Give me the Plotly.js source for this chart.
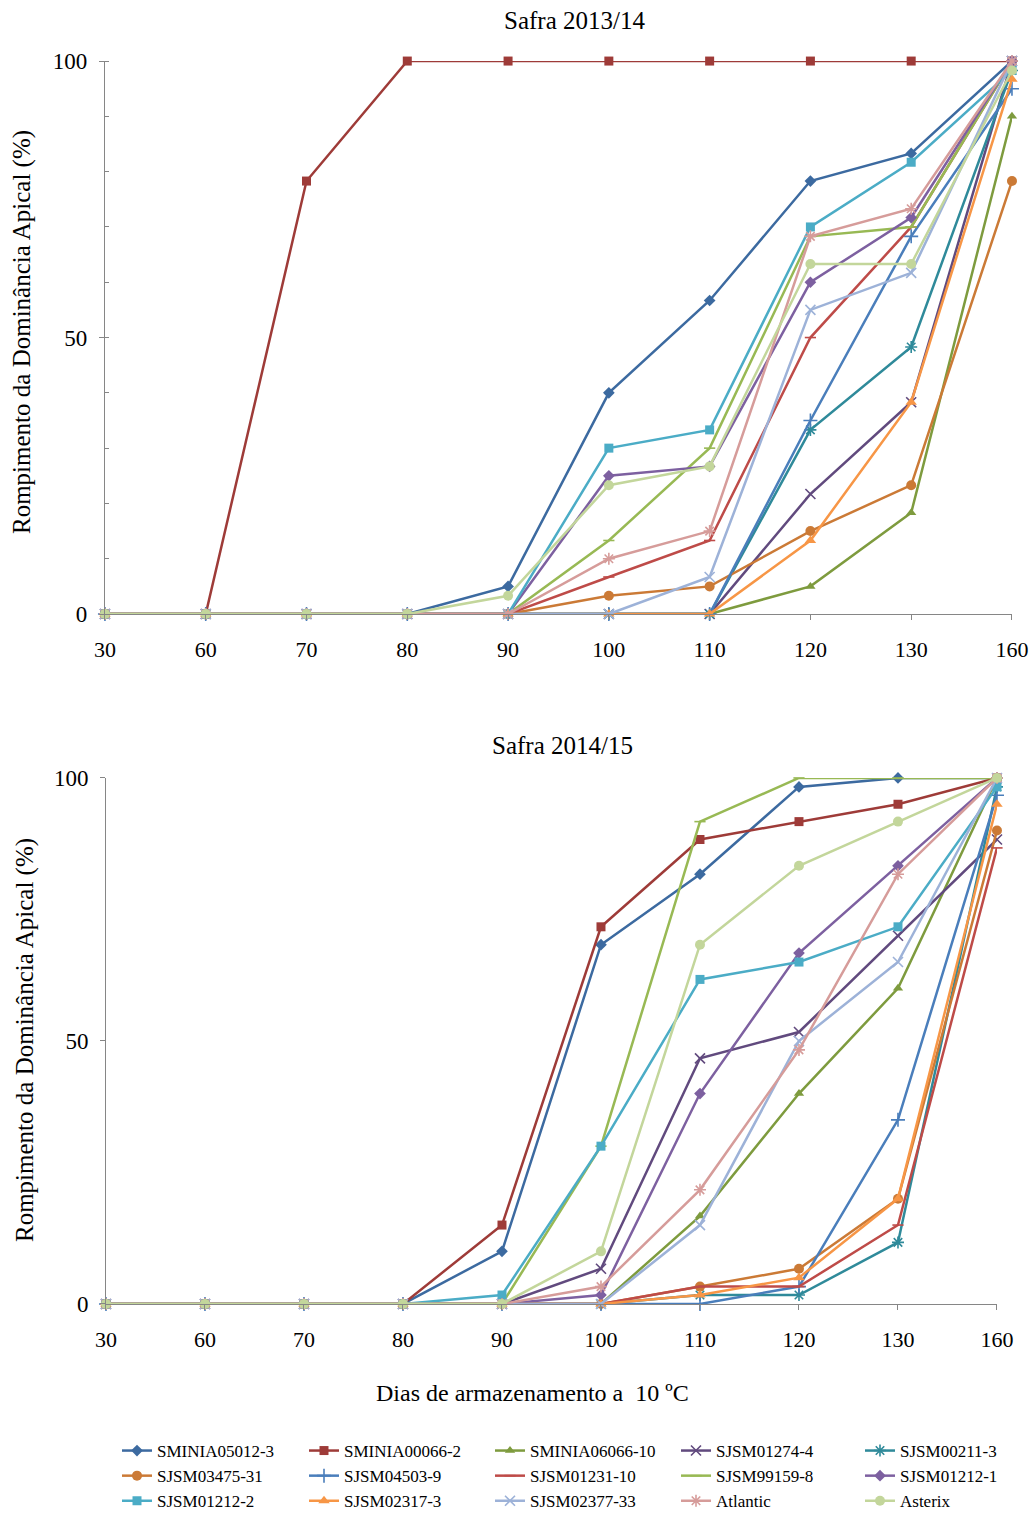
<!DOCTYPE html>
<html><head><meta charset="utf-8">
<script src="https://cdn.plot.ly/plotly-3.0.1.min.js"></script>
<style>body{margin:0;padding:0;background:#fff}#chart{width:1034px;height:1515px}</style>
</head><body><div id="chart"></div>
<script>
// Storage days (categories)
const days = ["30","60","70","80","90","100","110","120","130","160"];

const seriesNames = ["SMINIA05012-3","SMINIA00066-2","SMINIA06066-10","SJSM01274-4","SJSM00211-3",
  "SJSM03475-31","SJSM04503-9","SJSM01231-10","SJSM99159-8","SJSM01212-1",
  "SJSM01212-2","SJSM02317-3","SJSM02377-33","Atlantic","Asterix"];

// Safra 2013/14 – rows follow seriesNames
const safra1314 = [
  [0,0,0,0,5,40,56.7,78.3,83.3,100],
  [0,0,78.3,100,100,100,100,100,100,100],
  [0,0,0,0,0,0,0,5,18.3,90],
  [0,0,0,0,0,0,0,21.7,38.3,100],
  [0,0,0,0,0,0,0,33.3,48.3,98.3],
  [0,0,0,0,0,3.3,5,15,23.3,78.3],
  [0,0,0,0,0,0,0,35,68.3,95],
  [0,0,0,0,0,6.7,13.3,50,70,100],
  [0,0,0,0,0,13.3,30,68.3,70,100],
  [0,0,0,0,0,25,26.7,60,71.7,100],
  [0,0,0,0,0,30,33.3,70,81.7,98.3],
  [0,0,0,0,0,0,0,13.3,38.3,96.7],
  [0,0,0,0,0,0,6.7,55,61.7,100],
  [0,0,0,0,0,10,15,68.3,73.3,100],
  [0,0,0,0,3.3,23.3,26.7,63.3,63.3,98.3]
];

// Safra 2014/15 – rows follow seriesNames
const safra1415 = [
  [0,0,0,0,10,68.3,81.7,98.3,100,100],
  [0,0,0,0,15,71.7,88.3,91.7,95,100],
  [0,0,0,0,0,0,16.7,40,60,100],
  [0,0,0,0,0,6.7,46.7,51.7,70,88.3],
  [0,0,0,0,0,0,1.7,1.7,11.7,98.3],
  [0,0,0,0,0,0,3.3,6.7,20,90],
  [0,0,0,0,0,0,0,3.3,35,96.7],
  [0,0,0,0,0,0,3.3,3.3,15,86.7],
  [0,0,0,0,0,30,91.7,100,100,100],
  [0,0,0,0,0,1.7,40,66.7,83.3,100],
  [0,0,0,0,1.7,30,61.7,65,71.7,98.3],
  [0,0,0,0,0,0,1.7,5,20,95],
  [0,0,0,0,0,0,15,50,65,100],
  [0,0,0,0,0,3.3,21.7,48.3,81.7,100],
  [0,0,0,0,0,10,68.3,83.3,91.7,100]
];

const colors = ["#3C6AA0","#9E3B38","#7E9B3E","#614A7E","#2F8A9A",
  "#CB7A36","#4A7EBB","#BE4B48","#98B954","#7D60A0",
  "#4BACC6","#F79646","#9DB2D8","#D69C9A","#C3D69B"];
const symbols = ["diamond","square","triangle-up","x-thin-open","asterisk-open",
  "circle","cross-thin-open","line-ew-open","line-ew-open","diamond",
  "square","triangle-up","x-thin-open","asterisk-open","circle"];
const sizes = [9,9,9,10,10, 10,10,8,8,9, 9,10,10,10,10];

const FONT = "Liberation Serif, Times New Roman, serif";
const legendIds = ["legend","legend2","legend3","legend4","legend5"];
const traces = [];
function addSeason(vals, xa, ya, showLegend){
  seriesNames.forEach((n,i)=>{
    const thin = symbols[i].indexOf("open")>=0;
    traces.push({
      type:"scatter", mode:"lines+markers", name:n, legendgroup:n,
      legend: legendIds[i % 5],
      x:days, y:vals[i], xaxis:xa, yaxis:ya, showlegend:showLegend, cliponaxis:false,
      line:{color:colors[i], width:2.5},
      marker:{symbol:symbols[i], size:sizes[i], color:colors[i],
        line:{color:colors[i], width: thin?1.6:0}}
    });
  });
}
addSeason(safra1314,"x","y",true);
addSeason(safra1415,"x2","y2",false);

const axisGray = "#868686";
const yTitle = "Rompimento da Dominância Apical (%)";
function xAxis(dom, anchor){
  return {type:"category", domain:dom, anchor:anchor, range:[0,9], showline:true, linecolor:axisGray,
    linewidth:1, ticks:"outside", ticklen:5, tickcolor:axisGray, showgrid:false, zeroline:false,
    tickfont:{size:22}, ticklabelstandoff:11, automargin:false};
}
function yAxis(dom, anchor, minor){
  const a = {domain:dom, anchor:anchor, range:[0,100], tick0:0, dtick:50, showline:true, linecolor:axisGray,
    linewidth:1, ticks:"outside", ticklen:5, tickcolor:axisGray, showgrid:false, zeroline:false,
    tickfont:{size:23}, ticklabelstandoff:7, automargin:false};
  if(minor) a.minor = {tickmode:"linear", tick0:0, dtick:10, ticks:"inside", ticklen:4, tickcolor:axisGray};
  return a;
}

const colX = [117, 304, 490, 676, 860];
const legendTop = 1-1433/1515;
function paperText(text, px, py, size, angle){
  return {text:text, xref:"paper", yref:"paper", x:px/1034, y:1-py/1515, xanchor:"center", yanchor:"middle",
    showarrow:false, font:{size:size}, textangle:angle||0};
}
const layout = {
  width:1034, height:1515, paper_bgcolor:"#fff", plot_bgcolor:"#fff",
  margin:{l:0,r:0,t:0,b:0, autoexpand:false},
  font:{family:FONT, color:"#000", size:21},
  xaxis: xAxis([0.1015,0.9787],"y"),
  yaxis: yAxis([0.5947,0.9597],"x", true),
  xaxis2: xAxis([0.1025,0.9642],"y2"),
  yaxis2: yAxis([0.1393,0.4865],"x2", false),
  showlegend:true,
  annotations:[
    paperText("Safra 2013/14", 574, 20, 25),
    paperText("Safra 2014/15", 562, 745, 25),
    paperText("Dias de armazenamento a\u00a0 10 ºC", 532, 1393, 24),
    paperText(yTitle, 22, 332, 25, -90),
    paperText(yTitle, 25, 1040, 25, -90)
  ]
};
legendIds.forEach((id,k)=>{
  layout[id] = {orientation:"v", xref:"container", yref:"container", x:colX[k]/1034, xanchor:"left",
    y:legendTop, yanchor:"top", font:{size:17, family:FONT}, itemwidth:30, tracegroupgap:4,
    traceorder:"normal", bgcolor:"rgba(0,0,0,0)", borderwidth:0};
});

Plotly.newPlot("chart", traces, layout, {displayModeBar:false, staticPlot:true});
</script></body></html>
